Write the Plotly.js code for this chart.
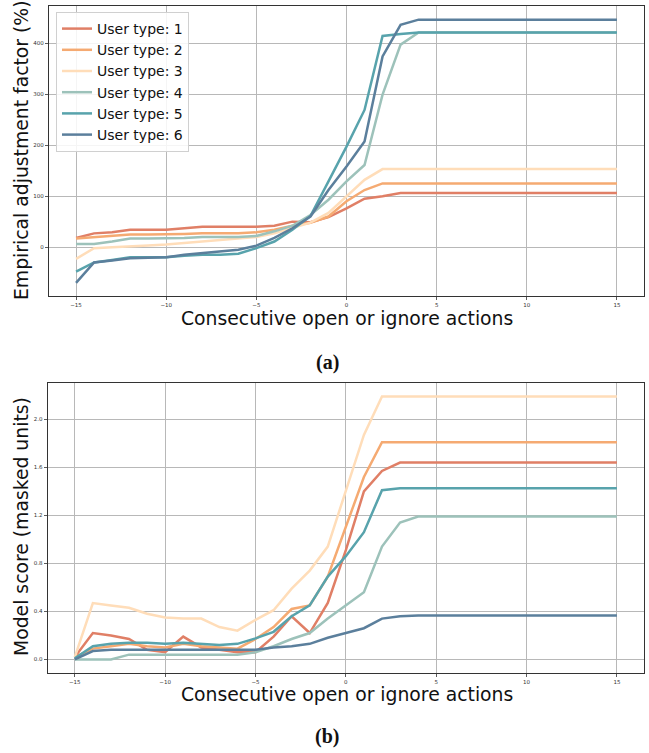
<!DOCTYPE html>
<html>
<head>
<meta charset="utf-8">
<script src="https://cdn.plot.ly/plotly-3.0.1.min.js"></script>
<style>html,body{margin:0;padding:0;background:#fff;}#chart{width:649px;height:753px;}</style>
</head>
<body>
<div id="chart"></div>
<script>
const xVals = [-15,-14,-13,-12,-11,-10,-9,-8,-7,-6,-5,-4,-3,-2,-1,0,1,2,3,4,5,6,7,8,9,10,11,12,13,14,15];
const seriesNames = ["User type: 1","User type: 2","User type: 3","User type: 4","User type: 5","User type: 6"];
const seriesColors = ["#E07F66","#F5AA72","#FFDDB9","#9DC2BA","#58A3AC","#5B7F9C"];

// (a) Empirical adjustment factor (%)
const adj1 = [18,27,29,34,34,34,37,40,40,40,40,42,50,49,59,76,95,100,106,106,106,106,106,106,106,106,106,106,106,106,106];
const adj2 = [17,20,22,25,25,25,26,27,27,27,29,34,42,48,60,90,112,125,125,125,125,125,125,125,125,125,125,125,125,125,125];
const adj3 = [-23,-2,0,1,3,5,8,11,14,16,20,27,37,48,67,99,132,153,153,153,153,153,153,153,153,153,153,153,153,153,153];
const adj4 = [6,6,11,17,17,17,18,20,20,20,22,31,42,63,93,129,161,299,397,421,421,421,421,421,421,421,421,421,421,421,421];
const adj5 = [-48,-30,-25,-20,-20,-20,-17,-15,-15,-13,-2,11,34,61,129,197,269,414,418,421,421,421,421,421,421,421,421,421,421,421,421];
const adj6 = [-70,-30,-26,-22,-21,-20,-15,-12,-8,-5,3,18,37,60,112,158,207,374,436,446,446,446,446,446,446,446,446,446,446,446,446];

// (b) Model score (masked units)
const score1 = [0.02,0.22,0.20,0.17,0.08,0.06,0.19,0.10,0.08,0.06,0.06,0.19,0.36,0.22,0.47,0.91,1.40,1.57,1.64,1.64,1.64,1.64,1.64,1.64,1.64,1.64,1.64,1.64,1.64,1.64,1.64];
const score2 = [0.02,0.09,0.11,0.13,0.11,0.10,0.13,0.11,0.10,0.09,0.17,0.27,0.42,0.45,0.69,1.11,1.52,1.81,1.81,1.81,1.81,1.81,1.81,1.81,1.81,1.81,1.81,1.81,1.81,1.81,1.81];
const score3 = [0.02,0.47,0.45,0.43,0.38,0.35,0.34,0.34,0.27,0.24,0.33,0.41,0.59,0.74,0.94,1.40,1.87,2.19,2.19,2.19,2.19,2.19,2.19,2.19,2.19,2.19,2.19,2.19,2.19,2.19,2.19];
const score4 = [0.0,0.0,0.0,0.04,0.04,0.04,0.045,0.04,0.04,0.04,0.06,0.11,0.17,0.22,0.34,0.45,0.56,0.94,1.14,1.19,1.19,1.19,1.19,1.19,1.19,1.19,1.19,1.19,1.19,1.19,1.19];
const score5 = [0.01,0.11,0.13,0.14,0.14,0.13,0.14,0.13,0.12,0.13,0.175,0.23,0.36,0.45,0.69,0.86,1.06,1.41,1.425,1.425,1.425,1.425,1.425,1.425,1.425,1.425,1.425,1.425,1.425,1.425,1.425];
const score6 = [0.0,0.07,0.08,0.08,0.08,0.08,0.08,0.08,0.08,0.08,0.08,0.10,0.11,0.13,0.18,0.22,0.26,0.34,0.36,0.365,0.365,0.365,0.365,0.365,0.365,0.365,0.365,0.365,0.365,0.365,0.365];

const xTicks = [-15,-10,-5,0,5,10,15];
const yTicksA = [0,100,200,300,400];
const yTicksB = [0.0,0.4,0.8,1.2,1.6,2.0];
const yTickTextB = ["0.0","0.4","0.8","1.2","1.6","2.0"];

const adjSeries = [adj1,adj2,adj3,adj4,adj5,adj6];
const scoreSeries = [score1,score2,score3,score4,score5,score6];

const traces = [];
adjSeries.forEach((ys,i) => {
  traces.push({x:xVals,y:ys,type:'scatter',mode:'lines',name:seriesNames[i],
    line:{color:seriesColors[i],width:2.5},xaxis:'x',yaxis:'y',showlegend:true});
});
scoreSeries.forEach((ys,i) => {
  traces.push({x:xVals,y:ys,type:'scatter',mode:'lines',name:seriesNames[i],
    line:{color:seriesColors[i],width:2.5},xaxis:'x2',yaxis:'y2',showlegend:false});
});

const W = 649, H = 753;
const axBase = {
  showgrid:true, gridcolor:'#b8b8b8', gridwidth:1,
  zeroline:false, showline:true, linecolor:'#333', linewidth:1.2, mirror:true,
  ticks:'outside', ticklen:3, tickcolor:'#333', tickwidth:0.8,
  tickfont:{family:'DejaVu Sans', size:5.5, color:'#333'}
};
const titleFont = {family:'DejaVu Sans', size:18.8, color:'#111'};
const capFont = {family:'Liberation Serif', size:20, color:'#111'};

const layout = {
  width:W, height:H,
  margin:{l:0,r:0,t:0,b:0},
  paper_bgcolor:'#fff', plot_bgcolor:'#fff',
  showlegend:true,
  legend:{x:56/W, y:1-12/H, xanchor:'left', yanchor:'top',
    bgcolor:'rgba(255,255,255,0.85)', bordercolor:'#d0d0d0', borderwidth:1,
    font:{family:'DejaVu Sans', size:14, color:'#111'}, tracegroupgap:0},
  xaxis:Object.assign({}, axBase, {domain:[49/W, 644/W], range:[-16.5,16.5],
    tickvals:xTicks, ticktext:xTicks.map(v=>v<0?'\u2212'+Math.abs(v):String(v)), anchor:'y'}),
  yaxis:Object.assign({}, axBase, {domain:[1-296/H, 1-6/H], range:[-95.8,472.8],
    tickvals:yTicksA, anchor:'x'}),
  xaxis2:Object.assign({}, axBase, {domain:[47.7/W, 644/W], range:[-16.5,16.5],
    tickvals:xTicks, ticktext:xTicks.map(v=>v<0?'\u2212'+Math.abs(v):String(v)), anchor:'y2'}),
  yaxis2:Object.assign({}, axBase, {domain:[1-672.7/H, 1-382.7/H], range:[-0.1105,2.305],
    tickvals:yTicksB, ticktext:yTickTextB, anchor:'x2'}),
  annotations:[
    {text:'Consecutive open or ignore actions', xref:'paper', yref:'paper', x:347/W, y:1-318/H,
      xanchor:'center', yanchor:'middle', showarrow:false, font:titleFont},
    {text:'Empirical adjustment factor (%)', xref:'paper', yref:'paper', x:21/W, y:1-150/H,
      xanchor:'center', yanchor:'middle', textangle:-90, showarrow:false, font:titleFont},
    {text:'<b>(a)</b>', xref:'paper', yref:'paper', x:327/W, y:1-362/H,
      xanchor:'center', yanchor:'middle', showarrow:false, font:capFont},
    {text:'Consecutive open or ignore actions', xref:'paper', yref:'paper', x:347/W, y:1-694/H,
      xanchor:'center', yanchor:'middle', showarrow:false, font:titleFont},
    {text:'Model score (masked units)', xref:'paper', yref:'paper', x:21/W, y:1-527/H,
      xanchor:'center', yanchor:'middle', textangle:-90, showarrow:false, font:titleFont},
    {text:'<b>(b)</b>', xref:'paper', yref:'paper', x:327/W, y:1-736/H,
      xanchor:'center', yanchor:'middle', showarrow:false, font:capFont}
  ]
};

Plotly.newPlot('chart', traces, layout, {displayModeBar:false, staticPlot:true});
</script>
</body>
</html>
